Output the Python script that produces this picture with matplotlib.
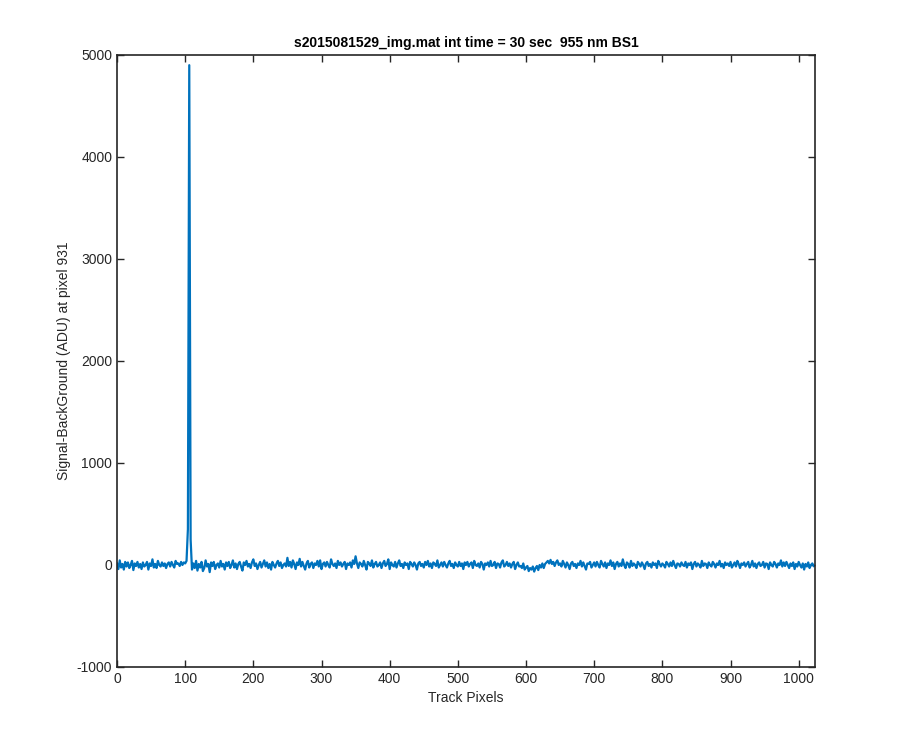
import numpy as np
import matplotlib
matplotlib.use('Agg')
import matplotlib.pyplot as plt

# track pixel positions (every 2nd pixel) and signal values
track_step = 2
signal = [
    15, -40, 45, -25, 10, -45, 30, -15, 25, -30, 0, 40, -50, 15, -10, 30,
    -25, 10, -40, 25, -15, 0, 30, -45, 15, -10, 55, -25, 10, -30, 40, 0,
    -15, 25, -10, 15, -30, 10, 25, -15, 30, 0, -25, 40, 10, 15, -10, 30,
    0, 25, 15, 40, 350, 4900, 250, -45, 15, -30, 40, -55, 10, -25, 30, -60,
    -30, 45, -15, 10, -70, 25, -10, 30, -40, 0, 15, -25, 40, -15, 10, -45,
    25, -10, 30, -30, 0, 45, -25, 15, -40, 10, 30, -15, -55, 25, 0, 40,
    -15, 10, -30, 25, 55, -10, 15, -40, 0, 30, -25, 10, 45, -15, 25, -30,
    10, -45, 30, 0, -25, 15, 40, -10, 25, -30, 0, 15, -15, 70, -10, 30,
    -25, 45, 10, -40, 25, 0, 60, -15, 30, -10, -45, 15, 40, -25, 10, 25,
    -30, 15, 0, 40, -15, 45, -40, 10, 25, -15, 30, 0, -25, 55, 10, -10,
    15, -30, 40, 0, 25, -15, 10, 30, -40, 15, 0, 25, -25, 45, 10, 85,
    15, -30, 25, 10, -15, 40, 0, -45, 30, 15, -10, 45, -25, 10, 30, -15,
    0, 25, -30, 15, 40, -10, 10, 55, -40, 25, 0, -15, 30, -25, 15, 45,
    -10, 10, -30, 25, 0, 15, -40, 30, 10, -15, 25, 0, -45, 15, 30, -10,
    10, -25, 30, 0, 40, -15, 15, -30, 25, 10, -10, 45, -25, 0, 25, -15,
    30, 0, -25, 15, 40, -10, 10, -30, 25, 0, -15, 30, -10, 15, -40, 25,
    0, 30, -15, 10, 25, -30, 40, 0, -10, 15, -25, 30, 10, -45, 15, 0,
    25, -15, 40, -10, 0, 30, -30, 15, 10, -25, 25, 45, -15, 0, 30, -10,
    15, -25, 10, 30, -40, 0, 25, -15, -10, -30, 15, -45, -25, -10, -60, -30,
    -45, -15, -65, -30, -10, -50, 0, -25, 15, -30, 10, 25, 40, 15, 50, 10,
    30, -10, 25, 45, 0, 15, -15, 40, 10, -25, 25, 0, -40, 15, 30, -10,
    10, -30, 15, 0, 40, -15, 25, -10, -45, 15, 10, 30, -25, 0, 25, -15,
    30, 0, -25, 40, 10, -15, 25, -30, 15, 0, 45, -10, 25, -40, 10, 30,
    -15, 15, -10, 55, 0, -30, 25, 10, -25, 40, -10, 15, 0, -30, 30, 10,
    -15, 25, 0, -40, 15, 30, -10, 10, -25, 25, 0, 15, -30, 40, 10, -15,
    15, 0, -25, 30, 10, -15, 25, -10, 40, 0, -30, 15, 10, -15, 25, 0,
    -10, 30, -25, 15, 0, 25, -40, 10, 30, -15, 15, 0, -25, 40, -10, 15,
    10, -30, 25, 0, -15, 30, 10, -25, 15, 0, 40, -15, 10, -30, 25, 0,
    15, -10, 30, -25, 0, 25, -15, 40, 10, -30, 15, 0, 25, -15, 10, 30,
    -25, 0, 40, -15, 15, -30, 10, 25, -10, 0, 30, -25, 15, 10, -40, 25,
    0, -15, 30, 10, -25, 15, 0, 45, -15, 25, -10, 30, 0, -30, 15, -10,
    25, -40, 10, -15, 30, 0, -25, 15, -45, 10, -15, 25, -30, 0, 15, -10,
]
track = np.arange(len(signal)) * track_step

title = 's2015081529_img.mat int time = 30 sec  955 nm BS1'
xlabel = 'Track Pixels'
ylabel = 'Signal-BackGround (ADU) at pixel 931'

plt.rcParams['font.family'] = ['Liberation Sans', 'DejaVu Sans']
plt.rcParams['axes.unicode_minus'] = False

fig = plt.figure(figsize=(9, 7.5), dpi=100)
ax = fig.add_axes([0.13, 0.1107, 0.7756, 0.816])
ax.plot(track, signal, color='#0072BD', linewidth=1.6)

ax.set_xlim(0, 1024)
ax.set_ylim(-1000, 5000)
ax.set_xticks(range(0, 1001, 100))
ax.set_yticks(range(-1000, 5001, 1000))
ax.tick_params(direction='in', top=True, right=True, labelsize=10,
               length=5, width=1, colors='#262626')
for s in ax.spines.values():
    s.set_color('#262626')
    s.set_linewidth(1.2)

ax.set_title(title, fontsize=10, fontweight='bold', color='black')
ax.set_xlabel(xlabel, fontsize=10, color='#262626')
ax.set_ylabel(ylabel, fontsize=10, color='#262626')

fig.savefig('out.png', dpi=100, facecolor='white')
